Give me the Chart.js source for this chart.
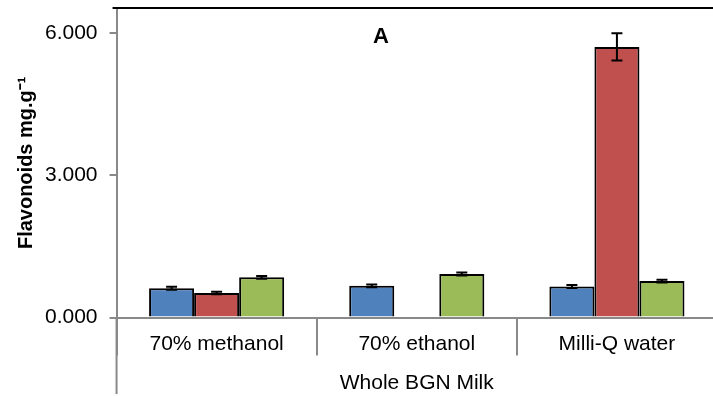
<!DOCTYPE html>
<html>
<head>
<meta charset="utf-8">
<script src="https://cdn.jsdelivr.net/npm/chart.js@4"></script>
<style>
  body { margin: 0; overflow: hidden; background: #fff; }
  #wrap { width: 717px; height: 396px; }
</style>
</head>
<body>
<div id="wrap"><canvas id="myChart"></canvas></div>
<script>
// data
const categories = ['70% methanol', '70% ethanol', 'Milli-Q water'];
const blueValues = [0.62, 0.67, 0.655];
const redValues = [0.52, null, 5.71];
const greenValues = [0.85, 0.92, 0.77];
const blueErrors = [0.03, 0.03, 0.03];
const redErrors = [0.025, null, 0.285];
const greenErrors = [0.03, 0.03, 0.03];
const yTicks = [0, 3, 6];

const font = "'Liberation Sans', Arial, sans-serif";
const axisGrey = '#898989';

// draws error bars, the top frame line and the long left axis line
const extrasPlugin = {
    id: 'extras',
    afterDatasetsDraw(chart) {
        const ctx = chart.ctx;
        const yScale = chart.scales.y;
        const errs = [blueErrors, redErrors, greenErrors];
        ctx.save();
        ctx.strokeStyle = '#000';
        ctx.lineWidth = 2;
        chart.data.datasets.forEach((ds, di) => {
            const meta = chart.getDatasetMeta(di);
            meta.data.forEach((bar, i) => {
                const v = ds.data[i];
                const e = errs[di][i];
                if (v == null || e == null) return;
                const yTop = yScale.getPixelForValue(v + e);
                const yBot = yScale.getPixelForValue(v - e);
                ctx.beginPath();
                ctx.moveTo(bar.x, yTop); ctx.lineTo(bar.x, yBot);
                ctx.moveTo(bar.x - 5.5, yTop); ctx.lineTo(bar.x + 5.5, yTop);
                ctx.moveTo(bar.x - 5.5, yBot); ctx.lineTo(bar.x + 5.5, yBot);
                ctx.stroke();
            });
        });
        ctx.restore();
    },
    afterDraw(chart) {
        const ctx = chart.ctx;
        const area = chart.chartArea;
        ctx.save();
        ctx.strokeStyle = '#000';
        ctx.lineWidth = 2;
        ctx.beginPath();
        ctx.moveTo(area.left - 4, area.top);
        ctx.lineTo(chart.width, area.top);
        ctx.stroke();
        ctx.strokeStyle = axisGrey;
        ctx.lineWidth = 2;
        ctx.beginPath();
        ctx.moveTo(area.left, area.bottom);
        ctx.lineTo(area.left, 394);
        ctx.stroke();
        ctx.fillStyle = '#000';
        ctx.font = 'bold 22px ' + font;
        ctx.textAlign = 'center';
        ctx.textBaseline = 'middle';
        ctx.fillText('A', 381, 37);
        ctx.restore();
    }
};

const ctx = document.getElementById('myChart').getContext('2d');
const myChart = new Chart(ctx, {
    type: 'bar',
    data: {
        labels: categories,
        datasets: [{
            data: blueValues,
            backgroundColor: '#4F81BD',
            borderColor: '#000',
            borderWidth: 2
        }, {
            data: redValues,
            backgroundColor: '#C0504D',
            borderColor: '#000',
            borderWidth: 2
        }, {
            data: greenValues,
            backgroundColor: '#9BBB59',
            borderColor: '#000',
            borderWidth: 2
        }]
    },
    options: {
        responsive: true,
        maintainAspectRatio: false,
        animation: false,
        layout: { padding: { left: 14, top: 8, right: 0, bottom: 0 } },
        plugins: {
            legend: { display: false },
            tooltip: { enabled: false }
        },
        datasets: {
            bar: { categoryPercentage: 0.675, barPercentage: 1.0 }
        },
        scales: {
            x: {
                offset: true,
                border: { color: axisGrey, width: 2 },
                grid: {
                    offset: true,
                    drawOnChartArea: false,
                    color: axisGrey,
                    lineWidth: 2,
                    tickLength: 38
                },
                ticks: {
                    color: '#000',
                    padding: -24,
                    font: { family: font, size: 21 }
                },
                title: {
                    display: true,
                    text: 'Whole BGN Milk',
                    color: '#000',
                    padding: { top: 38, bottom: 0 },
                    font: { family: font, size: 21 }
                }
            },
            y: {
                min: 0,
                max: 6.53,
                afterBuildTicks(axis) {
                    axis.ticks = yTicks.map(v => ({ value: v }));
                },
                afterFit(axis) {
                    axis.paddingTop = 0;
                },
                border: { color: axisGrey, width: 2 },
                grid: {
                    drawOnChartArea: false,
                    color: axisGrey,
                    lineWidth: 2,
                    tickLength: 7
                },
                ticks: {
                    color: '#000',
                    padding: 12,
                    font: { family: font, size: 21 },
                    callback: v => v.toFixed(3)
                },
                title: {
                    display: true,
                    text: 'Flavonoids mg.g\u207B\u00B9',
                    color: '#000',
                    padding: { top: 0, bottom: -5 },
                    font: { family: font, size: 20, weight: 'bold' }
                }
            }
        }
    },
    plugins: [extrasPlugin]
});
</script>
</body>
</html>
